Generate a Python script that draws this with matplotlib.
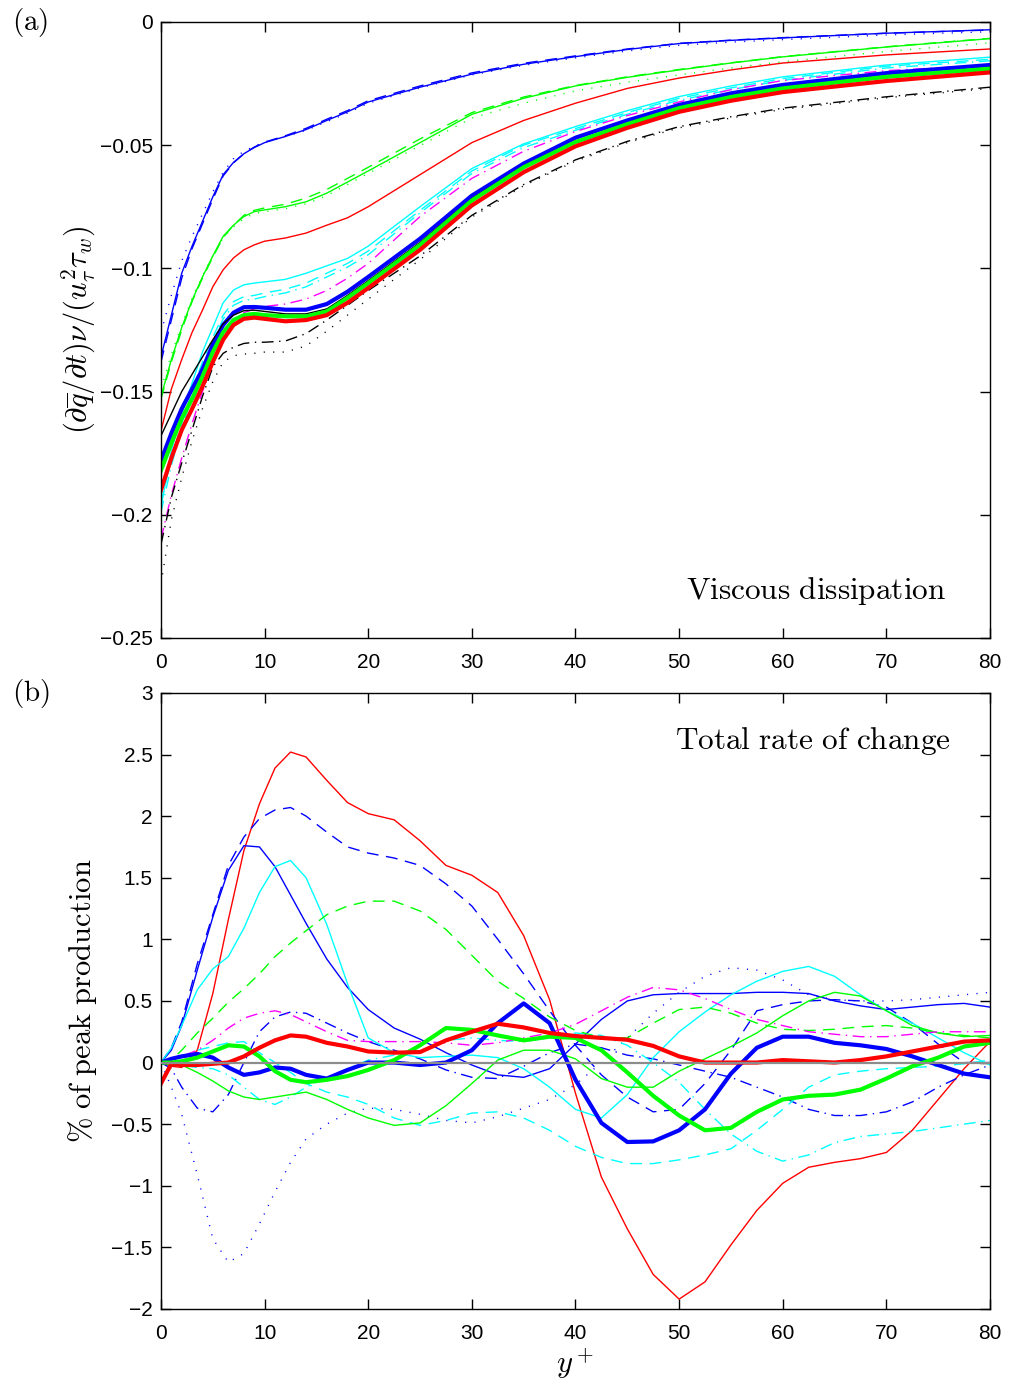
### Viskøs dissipasjon (a) og total endringsrate (b) mot y+
# Verdiene er lest av bildet, ikke beregnet

import matplotlib
matplotlib.use("Agg")
import matplotlib.pyplot as plt

plt.rcParams['mathtext.fontset'] = 'cm'
plt.rcParams['font.family'] = ['Liberation Sans', 'DejaVu Sans']

# ---------- (a) viskøs dissipasjon ----------
xa = [0, 1, 2, 3, 4, 5, 6, 7, 8, 9, 10, 12, 14, 16, 18, 20, 25, 30, 35, 40, 45, 50, 55, 60, 70, 80]

a_blue = [-0.136, -0.119, -0.102, -0.091, -0.081, -0.071, -0.062, -0.057, -0.0535, -0.051, -0.049, -0.0465, -0.0437,
          -0.040, -0.0365, -0.0325, -0.0265, -0.0212, -0.0172, -0.0141, -0.0112, -0.0088, -0.0075, -0.0065, -0.0046, -0.0032]
a_blue_dash = [-0.138, -0.121, -0.104, -0.092, -0.082, -0.072, -0.0625, -0.0572, -0.0535, -0.0508, -0.0488, -0.0462, -0.0432,
               -0.0395, -0.036, -0.032, -0.026, -0.0207, -0.0168, -0.0138, -0.011, -0.0087, -0.0074, -0.0064, -0.0046, -0.0033]
a_blue_dot = [-0.126, -0.111, -0.097, -0.087, -0.078, -0.069, -0.061, -0.0555, -0.0525, -0.0505, -0.0488, -0.0465, -0.044,
              -0.0405, -0.037, -0.033, -0.0268, -0.0215, -0.0176, -0.0146, -0.0118, -0.0095, -0.0082, -0.0072, -0.0053, -0.004]
a_green = [-0.152, -0.137, -0.124, -0.113, -0.1035, -0.095, -0.087, -0.0825, -0.079, -0.077, -0.0763, -0.075, -0.073,
           -0.0695, -0.065, -0.0605, -0.049, -0.0375, -0.031, -0.026, -0.0225, -0.0195, -0.0167, -0.0142, -0.0102, -0.0068]
a_green_dash = [-0.153, -0.138, -0.125, -0.1135, -0.104, -0.0955, -0.0875, -0.0825, -0.0785, -0.0765, -0.0755, -0.074, -0.0715,
                -0.068, -0.0635, -0.059, -0.0475, -0.0368, -0.0305, -0.0258, -0.0223, -0.0193, -0.0166, -0.0141, -0.0101, -0.0067]
a_green_dot = [-0.149, -0.135, -0.123, -0.112, -0.103, -0.095, -0.0875, -0.0832, -0.0798, -0.0778, -0.077, -0.0758, -0.0738,
               -0.0705, -0.066, -0.0615, -0.0502, -0.039, -0.033, -0.028, -0.0245, -0.0215, -0.0187, -0.0162, -0.012, -0.0085]
a_red = [-0.166, -0.149, -0.137, -0.126, -0.117, -0.1075, -0.1006, -0.0958, -0.0925, -0.0905, -0.089, -0.0877, -0.0857,
         -0.0825, -0.0795, -0.075, -0.062, -0.049, -0.040, -0.033, -0.027, -0.0228, -0.0195, -0.0167, -0.0134, -0.011]
a_cyan = [-0.197, -0.174, -0.159, -0.1466, -0.134, -0.124, -0.114, -0.1088, -0.1067, -0.106, -0.1055, -0.1045, -0.102,
          -0.099, -0.096, -0.091, -0.075, -0.0595, -0.0495, -0.0425, -0.036, -0.0303, -0.026, -0.0223, -0.0175, -0.0143]
a_cyan_dash = [-0.195, -0.177, -0.163, -0.150, -0.138, -0.128, -0.119, -0.1135, -0.1115, -0.111, -0.110, -0.1085, -0.106,
               -0.102, -0.098, -0.093, -0.0765, -0.0605, -0.050, -0.0433, -0.0368, -0.031, -0.0268, -0.023, -0.018, -0.0152]
a_cyan_dd = [-0.199, -0.180, -0.165, -0.152, -0.140, -0.130, -0.1205, -0.115, -0.113, -0.1125, -0.1115, -0.110, -0.1075,
             -0.1035, -0.0995, -0.0945, -0.0775, -0.0615, -0.051, -0.044, -0.0375, -0.0318, -0.0275, -0.0237, -0.0187, -0.0158]
a_magenta = [-0.21, -0.192, -0.177, -0.163, -0.150, -0.139, -0.129, -0.122, -0.118, -0.1165, -0.1155, -0.1145, -0.1125,
             -0.109, -0.104, -0.098, -0.079, -0.0635, -0.0525, -0.0445, -0.038, -0.0325, -0.0275, -0.0238, -0.0198, -0.0175]
a_black = [-0.168, -0.159, -0.150, -0.143, -0.136, -0.129, -0.1225, -0.119, -0.1172, -0.117, -0.1175, -0.1185, -0.1185,
           -0.1165, -0.111, -0.105, -0.0895, -0.0718, -0.0585, -0.0485, -0.0413, -0.0352, -0.0307, -0.0272, -0.0226, -0.0193]
a_black_dd = [-0.212, -0.193, -0.179, -0.1656, -0.152, -0.140, -0.1345, -0.132, -0.1305, -0.130, -0.130, -0.1295, -0.1265,
              -0.121, -0.115, -0.109, -0.095, -0.0785, -0.066, -0.056, -0.0485, -0.0425, -0.0385, -0.035, -0.0304, -0.0265]
a_black_dot = [-0.228, -0.202, -0.185, -0.170, -0.157, -0.146, -0.138, -0.1355, -0.1348, -0.1345, -0.134, -0.134, -0.1315,
               -0.1255, -0.119, -0.1125, -0.0965, -0.0792, -0.0665, -0.0565, -0.049, -0.043, -0.039, -0.0355, -0.0308, -0.027]
a_blue_thick = [-0.178, -0.167, -0.157, -0.149, -0.141, -0.131, -0.123, -0.118, -0.1158, -0.1157, -0.116, -0.1168, -0.1168,
                -0.1145, -0.1095, -0.1035, -0.088, -0.0705, -0.0575, -0.047, -0.040, -0.0337, -0.029, -0.0256, -0.0208, -0.0175]
a_green_thick = [-0.182, -0.171, -0.161, -0.153, -0.144, -0.134, -0.126, -0.121, -0.119, -0.1185, -0.119, -0.1195, -0.1195,
                 -0.1175, -0.112, -0.106, -0.0905, -0.0725, -0.059, -0.0488, -0.0415, -0.035, -0.0305, -0.027, -0.0223, -0.019]
a_red_thick = [-0.19, -0.177, -0.1656, -0.157, -0.148, -0.138, -0.129, -0.123, -0.1205, -0.120, -0.1205, -0.1215, -0.121,
               -0.119, -0.114, -0.108, -0.0925, -0.0745, -0.061, -0.0505, -0.043, -0.0365, -0.032, -0.0285, -0.024, -0.0205]

# ---------- (b) total endringsrate, % av maks produksjon ----------
xb = [0, 1, 2, 3.5, 5, 6.5, 8, 9.5, 11, 12.5, 14, 16, 18, 20,
      22.5, 25, 27.5, 30, 32.5, 35, 37.5, 40, 42.5, 45, 47.5, 50, 52.5, 55, 57.5, 60, 62.5, 65, 67.5, 70, 72.5, 75, 77.5, 80]

b_red = [0.0, -0.03, -0.04, 0.1, 0.56, 1.16, 1.72, 2.1, 2.39, 2.52, 2.48, 2.29, 2.11, 2.02,
         1.97, 1.8, 1.6, 1.52, 1.38, 1.03, 0.51, -0.25, -0.93, -1.35, -1.72, -1.92, -1.78, -1.48, -1.2, -0.98,
         -0.85, -0.81, -0.78, -0.73, -0.55, -0.3, -0.05, 0.17]
b_blue_dash = [0.0, 0.12, 0.33, 0.8, 1.2, 1.6, 1.83, 1.98, 2.05, 2.07, 2.0, 1.87, 1.75, 1.7,
               1.66, 1.6, 1.45, 1.27, 1.0, 0.72, 0.42, 0.14, -0.1, -0.28, -0.4, -0.38, -0.17, 0.1, 0.42, 0.47,
               0.5, 0.51, 0.5, 0.45, 0.32, 0.15, 0.0, 0.0]
b_blue = [0.0, 0.1, 0.3, 0.75, 1.18, 1.56, 1.76, 1.75, 1.59, 1.36, 1.13, 0.84, 0.61, 0.43,
          0.28, 0.19, 0.08, -0.02, -0.1, -0.12, -0.05, 0.15, 0.35, 0.5, 0.55, 0.56, 0.56, 0.56, 0.57, 0.57,
          0.56, 0.5, 0.46, 0.43, 0.45, 0.47, 0.48, 0.45]
b_blue_dd = [0.0, -0.05, -0.2, -0.37, -0.4, -0.26, 0.0, 0.25, 0.37, 0.41, 0.4, 0.32, 0.24, 0.17,
             0.1, 0.03, -0.06, -0.12, -0.13, -0.03, 0.08, 0.15, 0.12, 0.06, 0.03, -0.02, -0.07, -0.12, -0.2, -0.28,
             -0.38, -0.43, -0.43, -0.4, -0.32, -0.2, -0.1, -0.02]
b_blue_dot = [0.0, -0.2, -0.42, -0.91, -1.43, -1.62, -1.55, -1.31, -1.05, -0.81, -0.62, -0.5, -0.41, -0.37,
              -0.38, -0.42, -0.47, -0.49, -0.44, -0.37, -0.3, -0.18, 0.0, 0.2, 0.4, 0.57, 0.7, 0.77, 0.75, 0.67,
              0.55, 0.51, 0.5, 0.5, 0.51, 0.53, 0.55, 0.57]
b_cyan = [0.0, 0.12, 0.3, 0.59, 0.76, 0.86, 1.09, 1.38, 1.59, 1.64, 1.5, 1.12, 0.64, 0.2,
          0.08, 0.04, 0.05, 0.06, 0.04, -0.05, -0.2, -0.38, -0.45, -0.26, 0.04, 0.25, 0.41, 0.55, 0.66, 0.74,
          0.78, 0.7, 0.55, 0.42, 0.32, 0.2, 0.08, -0.02]
b_green_dash = [0.0, 0.02, 0.1, 0.24, 0.36, 0.49, 0.6, 0.72, 0.86, 0.97, 1.07, 1.2, 1.27, 1.31,
                1.31, 1.23, 1.08, 0.87, 0.66, 0.52, 0.37, 0.26, 0.2, 0.2, 0.32, 0.43, 0.45, 0.4, 0.32, 0.27,
                0.26, 0.27, 0.29, 0.3, 0.28, 0.24, 0.22, 0.2]
b_magenta = [0.0, 0.02, 0.05, 0.1, 0.18, 0.28, 0.36, 0.4, 0.42, 0.39, 0.33, 0.25, 0.18, 0.17,
             0.17, 0.17, 0.16, 0.14, 0.16, 0.2, 0.24, 0.31, 0.42, 0.53, 0.61, 0.59, 0.52, 0.43, 0.35, 0.3,
             0.25, 0.23, 0.21, 0.21, 0.23, 0.25, 0.25, 0.25]
b_cyan_dash = [0.0, 0.02, 0.05, 0.1, 0.13, 0.16, 0.17, 0.08, 0.0, -0.08, -0.17, -0.24, -0.28, -0.34,
               -0.45, -0.51, -0.47, -0.41, -0.4, -0.45, -0.55, -0.68, -0.77, -0.82, -0.82, -0.79, -0.75, -0.7, -0.55, -0.38,
               -0.2, -0.1, -0.07, -0.05, -0.04, -0.03, -0.01, 0.02]
b_cyan_dd = [0.0, -0.01, -0.02, -0.04, -0.05, -0.1, -0.2, -0.3, -0.34, -0.28, -0.2, -0.12, -0.05, 0.02,
             0.06, 0.1, 0.18, 0.2, 0.18, 0.17, 0.2, 0.24, 0.22, 0.14, 0.0, -0.16, -0.38, -0.58, -0.72, -0.8,
             -0.75, -0.65, -0.6, -0.58, -0.56, -0.53, -0.5, -0.47]
b_green = [0.0, -0.01, -0.02, -0.08, -0.15, -0.23, -0.28, -0.3, -0.28, -0.26, -0.24, -0.3, -0.38, -0.45,
           -0.51, -0.49, -0.35, -0.17, 0.02, 0.1, 0.1, 0.03, -0.13, -0.2, -0.2, -0.07, 0.03, 0.13, 0.24, 0.38,
           0.5, 0.57, 0.54, 0.42, 0.3, 0.24, 0.21, 0.22]
b_blue_thick = [0.0, 0.03, 0.05, 0.07, 0.04, -0.04, -0.1, -0.08, -0.04, -0.05, -0.1, -0.13, -0.06, 0.0,
                0.0, -0.02, 0.0, 0.1, 0.32, 0.48, 0.32, -0.14, -0.49, -0.645, -0.64, -0.55, -0.38, -0.09, 0.12, 0.21,
                0.21, 0.16, 0.14, 0.11, 0.05, -0.02, -0.09, -0.12]
b_green_thick = [0.0, 0.0, 0.01, 0.04, 0.09, 0.14, 0.13, 0.05, -0.07, -0.14, -0.16, -0.14, -0.11, -0.06,
                 0.02, 0.14, 0.28, 0.265, 0.22, 0.18, 0.21, 0.2, 0.1, -0.08, -0.27, -0.43, -0.55, -0.53, -0.4, -0.3,
                 -0.27, -0.26, -0.22, -0.13, -0.03, 0.04, 0.13, 0.16]
b_red_thick = [-0.17, -0.01, -0.02, -0.02, -0.01, 0.0, 0.05, 0.12, 0.18, 0.22, 0.21, 0.16, 0.13, 0.09,
               0.08, 0.085, 0.18, 0.25, 0.315, 0.285, 0.24, 0.215, 0.2, 0.185, 0.135, 0.05, 0.0, 0.0, 0.0, 0.02,
               0.01, 0.0, 0.02, 0.05, 0.09, 0.13, 0.17, 0.18]
b_zero = [0.0] * len(xb)

# linjestiler (MATLAB-aktige)
solid = '-'
dash = (0, (8.5, 5.5))
dot = (0, (0.8, 6.0))
dashdot = (0, (8.5, 4.0, 1.0, 4.0))
thin = 1.0
thick = 3.0

top_lines = [
    (a_blue, 'b', solid, thin), (a_blue_dash, 'b', dash, thin), (a_blue_dot, 'b', dot, thin),
    (a_green, 'lime', solid, thin), (a_green_dash, 'lime', dash, thin), (a_green_dot, 'lime', dot, thin),
    (a_red, 'r', solid, thin),
    (a_cyan, 'cyan', solid, thin), (a_cyan_dash, 'cyan', dash, thin), (a_cyan_dd, 'cyan', dashdot, thin),
    (a_magenta, 'magenta', dashdot, thin),
    (a_black_dd, 'k', dashdot, thin), (a_black_dot, 'k', dot, thin),
    (a_blue_thick, 'b', solid, thick), (a_black, 'k', solid, thin),
    (a_green_thick, 'lime', solid, thick), (a_red_thick, 'r', solid, thick),
]

bottom_lines = [
    (b_red, 'r', solid, thin), (b_blue_dash, 'b', dash, thin), (b_blue, 'b', solid, thin),
    (b_blue_dd, 'b', dashdot, thin), (b_blue_dot, 'b', dot, thin),
    (b_cyan, 'cyan', solid, thin), (b_cyan_dash, 'cyan', dash, thin), (b_cyan_dd, 'cyan', dashdot, thin),
    (b_green_dash, 'lime', dash, thin), (b_green, 'lime', solid, thin),
    (b_magenta, 'magenta', dashdot, thin),
    (b_blue_thick, 'b', solid, thick), (b_green_thick, 'lime', solid, thick), (b_red_thick, 'r', solid, thick),
]

fig = plt.figure(figsize=(10.1, 13.85), dpi=100)
ax1 = fig.add_axes([0.1594, 0.5394, 0.8208, 0.4448])
ax2 = fig.add_axes([0.1594, 0.0549, 0.8208, 0.4448])

for vals, c, ls, lw in top_lines:
    ax1.plot(xa, vals, color=c, linestyle=ls, linewidth=lw, dash_capstyle='butt')
for vals, c, ls, lw in bottom_lines:
    ax2.plot(xb, vals, color=c, linestyle=ls, linewidth=lw, dash_capstyle='butt')
ax2.plot(xb, b_zero, color='0.55', linewidth=1.6, zorder=5)

minus = '\u2212'
ax1.set_xlim(0, 80)
ax1.set_ylim(-0.25, 0)
ax1.set_yticks([0, -0.05, -0.1, -0.15, -0.2, -0.25])
ax1.set_yticklabels(['0', minus + '0.05', minus + '0.1', minus + '0.15', minus + '0.2', minus + '0.25'])
ax2.set_xlim(0, 80)
ax2.set_ylim(-2, 3)
yb_ticks = [-2, -1.5, -1, -0.5, 0, 0.5, 1, 1.5, 2, 2.5, 3]
ax2.set_yticks(yb_ticks)
ax2.set_yticklabels([('%g' % v).replace('-', minus) for v in yb_ticks])

for ax in (ax1, ax2):
    ax.set_xticks(range(0, 81, 10))
    ax.tick_params(direction='in', length=7, width=1, top=True, right=True, labelsize=15, pad=6)
    ax.tick_params(axis='x', pad=11)
    for s in ax.spines.values():
        s.set_linewidth(1.0)

ax1.set_ylabel(r'$(\partial\overline{q}/\partial t)\nu/(u_\tau^2\tau_w)$', fontsize=22, labelpad=1)
ax2.set_ylabel(r'$\mathrm{\%\ of\ peak\ production}$', fontsize=22, labelpad=9)
ax2.set_xlabel(r'$y^+$', fontsize=22, labelpad=2)

ax1.text(0.947, 0.076, r'$\mathrm{Viscous\ dissipation}$', transform=ax1.transAxes,
         ha='right', va='center', fontsize=22.5)
ax2.text(0.953, 0.922, r'$\mathrm{Total\ rate\ of\ change}$', transform=ax2.transAxes,
         ha='right', va='center', fontsize=22.5)
fig.text(0.012, 0.984, r'$\mathrm{(a)}$', fontsize=21, va='center')
fig.text(0.012, 0.4996, r'$\mathrm{(b)}$', fontsize=21, va='center')

plt.savefig('out.png', dpi=100)
